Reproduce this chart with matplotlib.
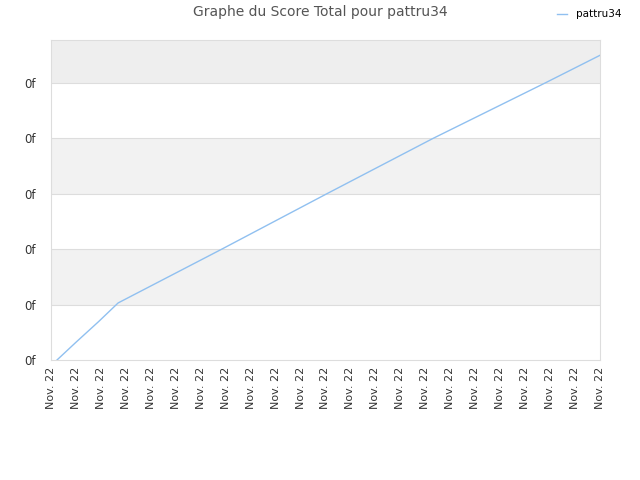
import matplotlib
matplotlib.use("Agg")
import matplotlib.pyplot as plt

tick_labels = ["Nov. 22"] * 23
x_vals = [0.24, 1.0, 1.9, 2.69, 6.84, 11.05, 15.31, 19.8, 22.0]
y_vals = [0.0, 0.32, 0.69, 1.03, 2.0, 3.0, 4.0, 5.0, 5.5]
y_ticks = [0, 1, 2, 3, 4, 5]
y_tick_labels = ["0f"] * 6

fig = plt.figure(figsize=(6.4, 4.8), dpi=100)
ax = fig.add_axes([51/640, 1-360/480, 549/640, 320/480])
ymax = 5.776
ax.set_xlim(0, 22)
ax.set_ylim(0, ymax)

band_colors = ["white", "#f2f2f2", "white", "#f2f2f2", "white", "#eeeeee"]
edges = y_ticks + [ymax]
for i in range(6):
    ax.axhspan(edges[i], edges[i+1], color=band_colors[i], zorder=0, lw=0)
for t in y_ticks[1:]:
    ax.axhline(t, color="#dddddd", lw=0.8, zorder=1)

ax.plot(x_vals, y_vals, color="#90c0f0", lw=1, label="pattru34", zorder=3)

ax.set_xticks(range(23))
ax.set_xticklabels(tick_labels, rotation=90, fontsize=8, color="#333333")
ax.set_yticks(y_ticks)
ax.set_yticklabels(y_tick_labels, fontsize=8.5, color="#333333")
ax.tick_params(axis="x", length=0, pad=5)
ax.tick_params(axis="y", length=0, pad=11)
for s in ax.spines.values():
    s.set_color("#dddddd")

fig.text(0.5, 1-12/480, "Graphe du Score Total pour pattru34", ha="center", va="center", fontsize=10, color="#555555")
fig.legend(loc="upper right", bbox_to_anchor=(0.985, 1.0), frameon=False, fontsize=7.5, handlelength=1.0)
fig.savefig("out.png", dpi=100)
